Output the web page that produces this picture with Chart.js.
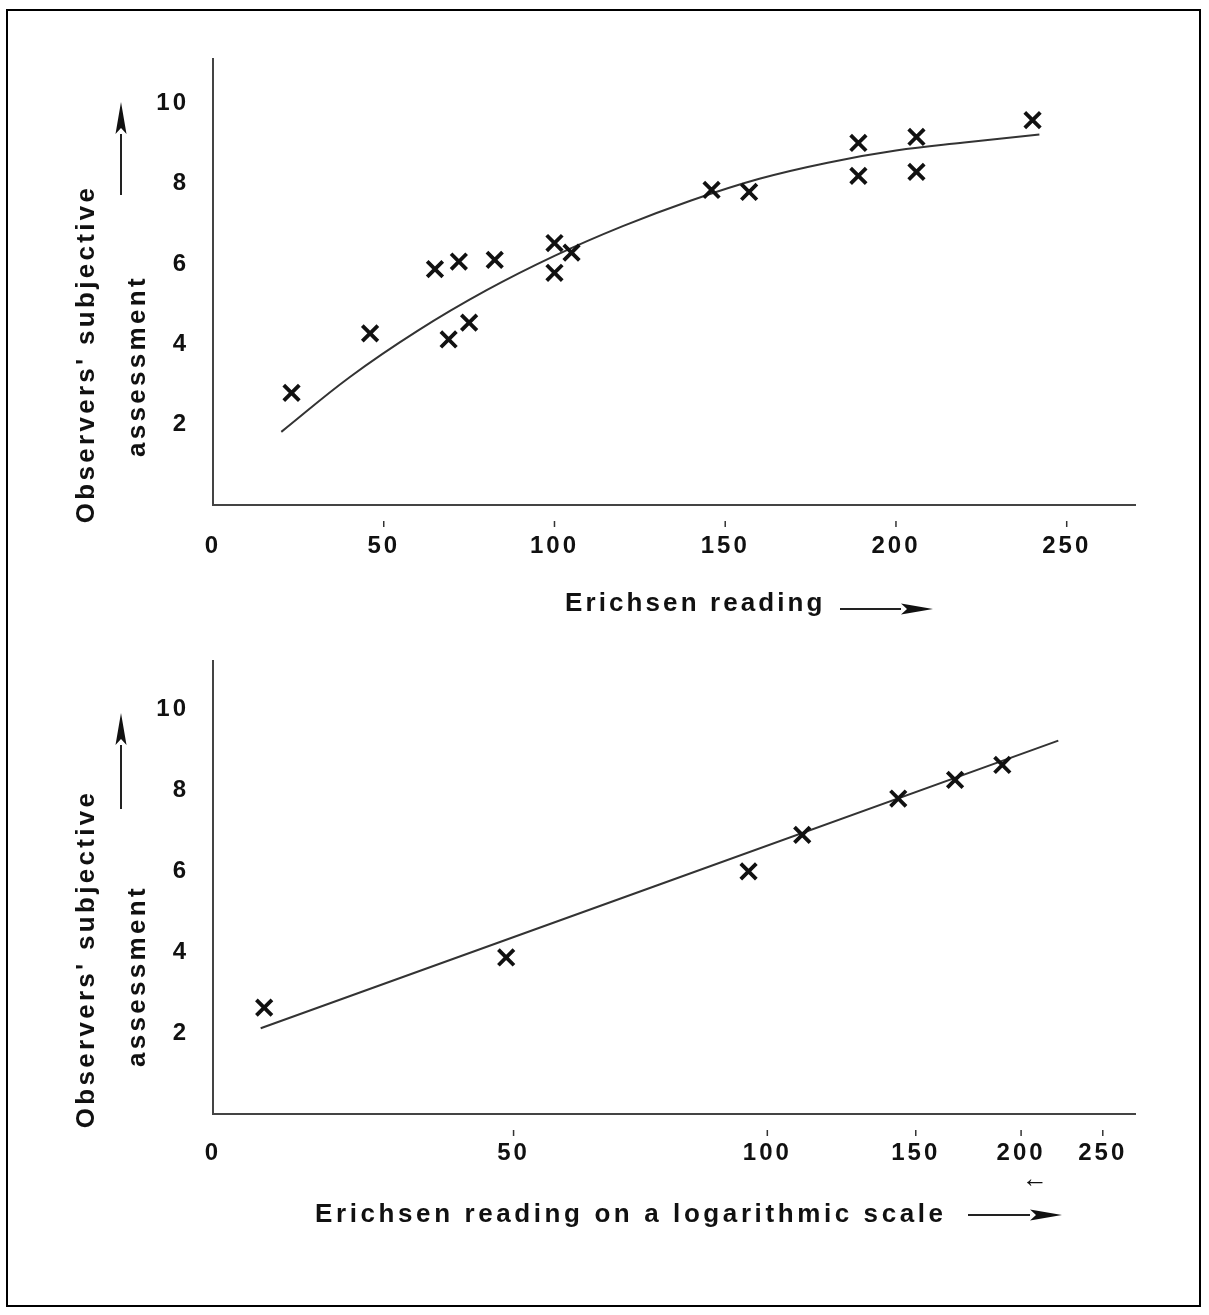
<!DOCTYPE html>
<html>
<head>
<meta charset="utf-8">
<script src="https://cdn.jsdelivr.net/npm/chart.js@4.4.1/dist/chart.umd.min.js"></script>
<style>
  body { margin: 0; background: #fff; }
  #frame { position: absolute; left: 6px; top: 9px; width: 1195px; height: 1298px; border: 2px solid #000; box-sizing: border-box; }
  canvas { position: absolute; left: 0; }
  #topChart { top: 0; }
  #bottomChart { top: 640px; }
</style>
</head>
<body>
<div id="frame"></div>
<canvas id="topChart" width="1209" height="640"></canvas>
<canvas id="bottomChart" width="1209" height="675"></canvas>
<script>
// top panel - linear Erichsen scale
const readings   = [23, 46, 65, 69, 72, 75, 82.5, 100, 100, 105, 146, 157, 189, 189, 206, 206, 240];
const assessment = [2.79, 4.27, 5.87, 4.12, 6.06, 4.54, 6.1, 6.52, 5.78, 6.28, 7.84, 7.79, 9.01, 8.19, 9.16, 8.29, 9.58];
// fitted curve
const curveX = [20, 40, 60, 80, 100, 120, 140, 160, 180, 200, 220, 242];
const curveY = [1.82, 3.18, 4.34, 5.34, 6.2, 6.94, 7.58, 8.12, 8.52, 8.82, 9.02, 9.22];
const linTicks = [0, 50, 100, 150, 200, 250];
const yTicks = [2, 4, 6, 8, 10];

// bottom panel - logarithmic Erichsen scale
const logReadings   = [25.3, 49, 95, 110, 143, 167, 190];
const logAssessment = [2.63, 3.87, 6.0, 6.9, 7.8, 8.26, 8.63];
const fitX = [25.06, 221.4];
const fitY = [2.12, 9.23];
const logTicks = [22, 50, 100, 150, 200, 250];
const logTickLabels = ['0', '50', '100', '150', '200', '250'];

const FONT = '"Liberation Sans", Arial, sans-serif';
const INK = '#111';

// arrows, axis titles and the small detached tick marks
const decor = {
    id: 'decor',
    beforeDraw(chart) {
        chart.ctx.letterSpacing = '3px';
    },
    afterDraw(chart, args, opts) {
        const ctx = chart.ctx;
        const xs = chart.scales.x;
        ctx.save();

        ctx.strokeStyle = '#333';
        ctx.lineWidth = 1.5;
        xs.ticks.forEach(t => {
            if (t.value === xs.min) return;
            const px = xs.getPixelForValue(t.value);
            ctx.beginPath();
            ctx.moveTo(px, xs.top + 16);
            ctx.lineTo(px, xs.top + 22);
            ctx.stroke();
        });

        ctx.fillStyle = INK;
        opts.texts.forEach(t => {
            ctx.save();
            ctx.font = 'bold ' + (t.size || 26) + 'px ' + FONT;
            ctx.letterSpacing = (t.spacing === undefined ? 3.3 : t.spacing) + 'px';
            ctx.translate(t.x, t.y);
            if (t.rotate) {
                ctx.rotate(-Math.PI / 2);
                ctx.textAlign = 'center';
                ctx.textBaseline = 'middle';
            } else {
                ctx.textAlign = t.align || 'left';
                ctx.textBaseline = 'alphabetic';
            }
            ctx.fillText(t.text, 0, 0);
            ctx.restore();
        });

        opts.arrows.forEach(a => {
            const ang = Math.atan2(a.y2 - a.y1, a.x2 - a.x1);
            const head = 32, half = 5.5;
            const bx = a.x2 - Math.cos(ang) * head;
            const by = a.y2 - Math.sin(ang) * head;
            ctx.strokeStyle = '#222';
            ctx.lineWidth = 2;
            ctx.beginPath();
            ctx.moveTo(a.x1, a.y1);
            ctx.lineTo(bx, by);
            ctx.stroke();
            ctx.beginPath();
            ctx.moveTo(a.x2, a.y2);
            ctx.lineTo(bx - Math.sin(ang) * half, by + Math.cos(ang) * half);
            ctx.lineTo(bx + Math.cos(ang) * 6, by + Math.sin(ang) * 6);
            ctx.lineTo(bx + Math.sin(ang) * half, by - Math.cos(ang) * half);
            ctx.closePath();
            ctx.fill();
        });

        ctx.restore();
    }
};

function pointsOf(xv, yv) {
    return xv.map((x, i) => ({ x: x, y: yv[i] }));
}

function yScale(max) {
    return {
        min: 0,
        max: max,
        afterFit(scale) {
            scale.width = 213;
            scale.paddingTop = 0;
            scale.paddingBottom = 0;
        },
        afterBuildTicks(scale) { scale.ticks = yTicks.map(v => ({ value: v })); },
        grid: { display: true, drawOnChartArea: false, drawTicks: false },
        border: { display: true, color: '#444', width: 2 },
        ticks: { autoSkip: false, padding: 24, color: INK, font: { family: FONT, size: 24, weight: 'bold' } }
    };
}

function xFit(h) {
    return function(scale) {
        scale.height = h;
        scale.paddingLeft = 0;
        scale.paddingRight = 0;
    };
}

function baseDatasets(px, py, lx, ly) {
    return [{
        label: 'Observations',
        data: pointsOf(px, py),
        showLine: false,
        pointStyle: 'crossRot',
        pointRadius: 11,
        borderWidth: 3.8,
        borderColor: INK
    }, {
        label: 'Fit',
        data: pointsOf(lx, ly),
        showLine: true,
        pointRadius: 0,
        borderWidth: 2,
        borderColor: '#333',
        tension: 0.4
    }];
}

document.addEventListener('DOMContentLoaded', function() {
    new Chart(document.getElementById('topChart'), {
        type: 'scatter',
        data: { datasets: baseDatasets(readings, assessment, curveX, curveY) },
        plugins: [decor],
        options: {
            responsive: false,
            animation: false,
            events: [],
            layout: { padding: { left: 0, right: 74, top: 59, bottom: 0 } },
            plugins: {
                legend: { display: false },
                tooltip: { enabled: false },
                decor: {
                    texts: [
                        { text: "Observers' subjective", x: 87, y: 354, rotate: true },
                        { text: 'assessment', x: 138, y: 366, rotate: true },
                        { text: 'Erichsen reading', x: 565, y: 611, spacing: 3.1 }
                    ],
                    arrows: [
                        { x1: 121, y1: 195, x2: 121, y2: 102 },
                        { x1: 840, y1: 609, x2: 933, y2: 609 }
                    ]
                }
            },
            scales: {
                x: {
                    type: 'linear',
                    min: 0,
                    max: 270,
                    afterFit: xFit(135),
                    afterBuildTicks(scale) { scale.ticks = linTicks.map(v => ({ value: v })); },
                    grid: { display: true, drawOnChartArea: false, drawTicks: false },
                    border: { display: true, color: '#444', width: 2 },
                    ticks: { autoSkip: false, maxRotation: 0, padding: 27, color: INK, font: { family: FONT, size: 24, weight: 'bold' } }
                },
                y: yScale(11.1)
            }
        }
    });

    new Chart(document.getElementById('bottomChart'), {
        type: 'scatter',
        data: { datasets: baseDatasets(logReadings, logAssessment, fitX, fitY) },
        plugins: [decor],
        options: {
            responsive: false,
            animation: false,
            events: [],
            layout: { padding: { left: 0, right: 74, top: 21, bottom: 0 } },
            plugins: {
                legend: { display: false },
                tooltip: { enabled: false },
                decor: {
                    texts: [
                        { text: "Observers' subjective", x: 87, y: 319, rotate: true },
                        { text: 'assessment', x: 138, y: 336, rotate: true },
                        { text: 'Erichsen reading on a logarithmic scale', x: 315, y: 582, spacing: 3.6 },
                        { text: '\u2190', x: 1035, y: 547, size: 26, spacing: 0, align: 'center' }
                    ],
                    arrows: [
                        { x1: 121, y1: 169, x2: 121, y2: 73 },
                        { x1: 968, y1: 575, x2: 1062, y2: 575 }
                    ]
                }
            },
            scales: {
                x: {
                    type: 'logarithmic',
                    min: 22,
                    max: 273,
                    afterFit: xFit(201),
                    afterBuildTicks(scale) { scale.ticks = logTicks.map(v => ({ value: v })); },
                    grid: { display: true, drawOnChartArea: false, drawTicks: false },
                    border: { display: true, color: '#444', width: 2 },
                    ticks: {
                        autoSkip: false,
                        maxRotation: 0,
                        padding: 25,
                        color: INK,
                        font: { family: FONT, size: 24, weight: 'bold' },
                        callback: (v, i) => logTickLabels[i]
                    }
                },
                y: yScale(11.2)
            }
        }
    });
});
</script>
</body>
</html>
